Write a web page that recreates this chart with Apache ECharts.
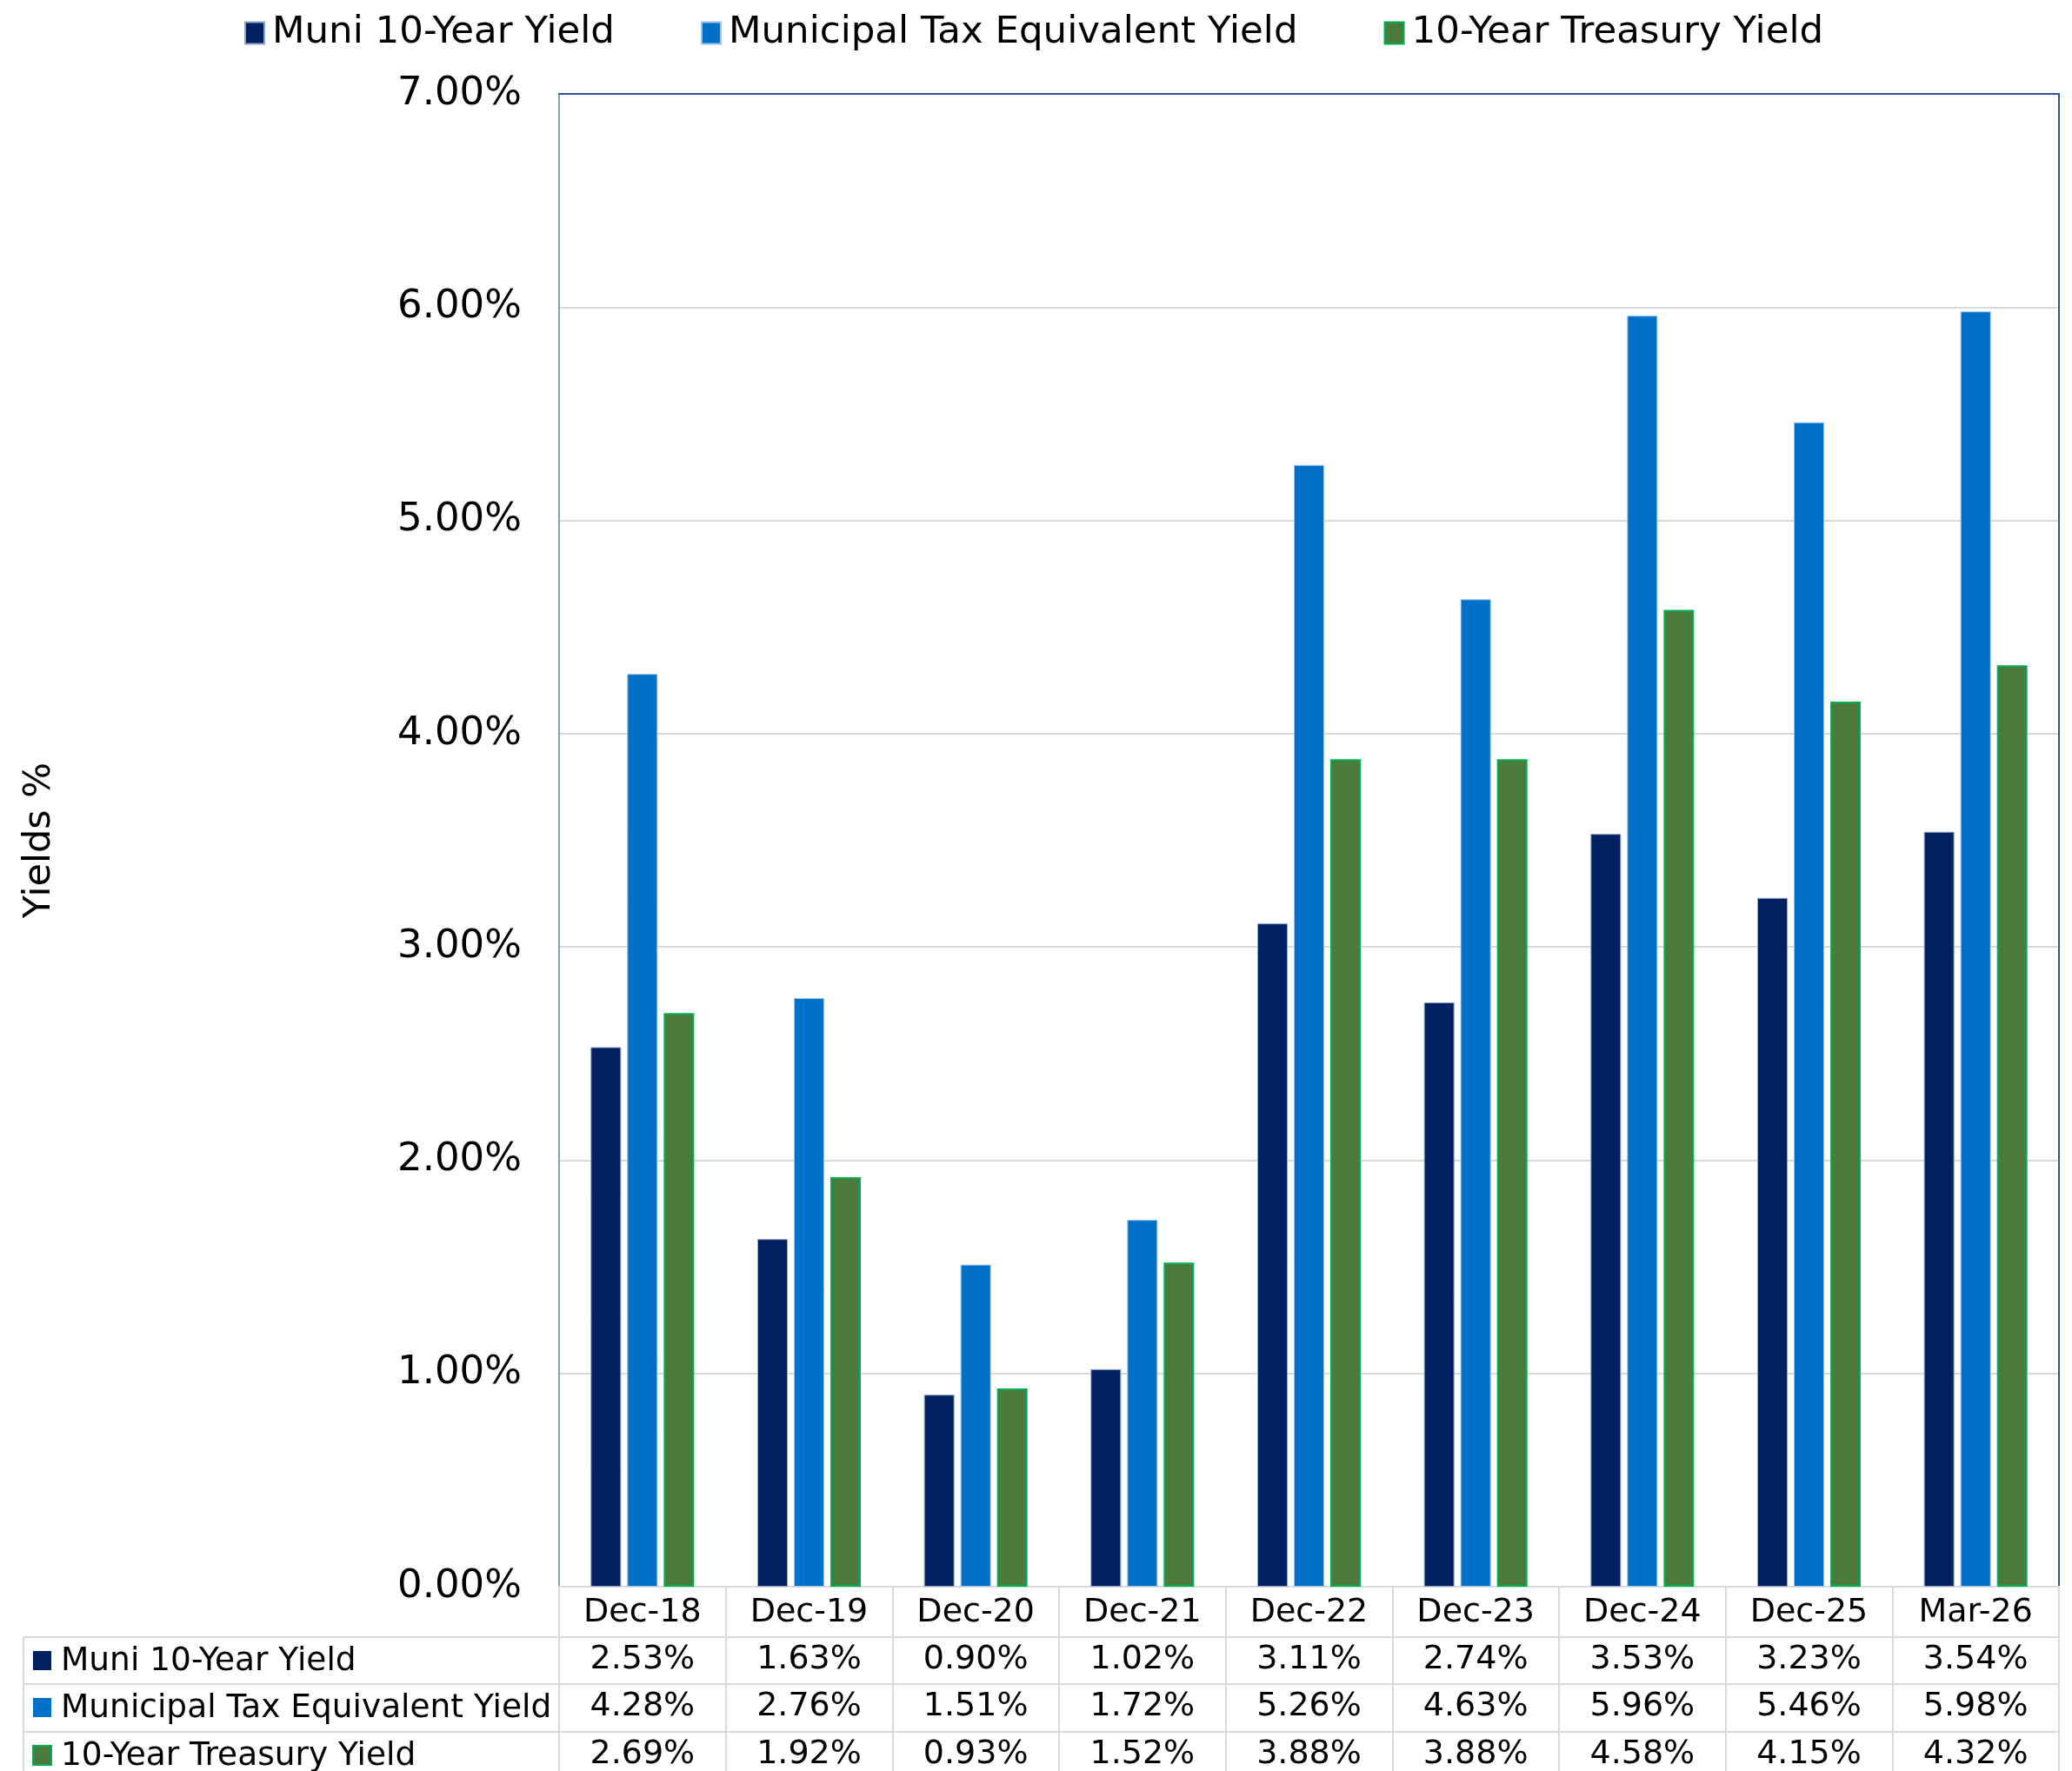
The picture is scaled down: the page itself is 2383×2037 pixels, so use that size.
<!DOCTYPE html>
<html>
<head>
<meta charset="utf-8">
<title>Yields</title>
<script src="https://cdn.jsdelivr.net/npm/echarts@6/dist/echarts.min.js"></script>
<style>
  html, body { margin: 0; padding: 0; background: #fff; }
  #chart { width: 2383px; height: 2037px; }
</style>
</head>
<body>
<div id="chart"></div>
<script>
const categories = ["Dec-18", "Dec-19", "Dec-20", "Dec-21", "Dec-22", "Dec-23", "Dec-24", "Dec-25", "Mar-26"];
const muniYield = [2.53, 1.63, 0.90, 1.02, 3.11, 2.74, 3.53, 3.23, 3.54];
const taxEquivYield = [4.28, 2.76, 1.51, 1.72, 5.26, 4.63, 5.96, 5.46, 5.98];
const treasuryYield = [2.69, 1.92, 0.93, 1.52, 3.88, 3.88, 4.58, 4.15, 4.32];
const seriesNames = ["Muni 10-Year Yield", "Municipal Tax Equivalent Yield", "10-Year Treasury Yield"];

const colors = ["#002060", "#0070C8", "#4B7A3D"];
const borderColors = ["#8FA3C8", "#9DC3E6", "#00B050"];
const font = "'DejaVu Sans', Verdana, sans-serif";

// layout
const W = 2383, H = 2037;
const grid = { left: 643, right: 15, top: 108, bottom: 211 };
const plotBottom = H - grid.bottom;
const plotRight = W - grid.right;
const rowOffsets = [57, 111, 166];
const tableLeft = 27;
const lineColor = "#D9D9D9";

const rows = [muniYield, taxEquivYield, treasuryYield];

const pct = v => v.toFixed(2) + "%";

const tableAxes = rows.map((vals, i) => ({
  type: "category",
  data: categories,
  position: "bottom",
  offset: rowOffsets[i],
  axisLine: { show: false },
  axisTick: { show: false },
  axisLabel: {
    interval: 0,
    margin: 8,
    fontSize: 38,
    lineHeight: 38,
    fontFamily: font,
    color: "#000",
    formatter: (v, idx) => pct(vals[idx]),
  },
}));

const graphics = [];
rowOffsets.forEach((off, i) => {
  const y = plotBottom + off;
  graphics.push({
    type: "line",
    shape: { x1: tableLeft, y1: y, x2: plotRight, y2: y },
    style: { stroke: lineColor, lineWidth: 2 },
  });
  graphics.push({
    type: "rect",
    shape: { x: 38, y: y + 27 - 11, width: 21, height: 22 },
    style: { fill: colors[i], stroke: i === 2 ? borderColors[2] : null, lineWidth: 2 },
  });
  graphics.push({
    type: "text",
    x: 70,
    y: y + 28,
    style: {
      text: seriesNames[i],
      font: "37.5px " + font,
      fill: "#000",
      verticalAlign: "middle",
    },
  });
});
graphics.push({
  type: "line",
  shape: { x1: tableLeft, y1: plotBottom + rowOffsets[0], x2: tableLeft, y2: H },
  style: { stroke: lineColor, lineWidth: 2 },
});

const option = {
  animation: false,
  backgroundColor: "#fff",
  textStyle: { fontFamily: font },
  legend: {
    top: 11,
    left: 276,
    itemWidth: 22,
    itemHeight: 25,
    itemGap: 99,
    icon: "rect",
    textStyle: { fontSize: 43.5, fontFamily: font, color: "#000", padding: [0, 0, 0, 4] },
    data: seriesNames,
  },
  grid: grid,
  xAxis: [
    {
      type: "category",
      data: categories,
      position: "bottom",
      axisLine: { lineStyle: { color: lineColor, width: 2 } },
      axisTick: { show: true, interval: 0, length: 240, lineStyle: { color: lineColor, width: 2 } },
      axisLabel: {
        interval: 0,
        margin: 11,
        fontSize: 38,
        lineHeight: 38,
        fontFamily: font,
        color: "#000",
      },
    },
    ...tableAxes,
    {
      type: "category",
      data: categories,
      position: "top",
      axisLine: { lineStyle: { color: "#2F5597", width: 2 } },
      axisTick: { show: false },
      axisLabel: { show: false },
    },
  ],
  yAxis: [
    {
      type: "value",
      min: 0,
      max: 7,
      interval: 1,
      name: "Yields %",
      nameLocation: "middle",
      nameGap: 576,
      nameTextStyle: { fontSize: 43, fontFamily: font, color: "#000" },
      axisLine: { show: true, lineStyle: { color: "#8EA0C0", width: 2 } },
      axisTick: { show: false },
      splitLine: { lineStyle: { color: lineColor, width: 2 } },
      axisLabel: {
        margin: 43,
        fontSize: 45,
        fontFamily: font,
        color: "#000",
        formatter: v => pct(v),
      },
    },
    {
      type: "value",
      min: 0,
      max: 7,
      interval: 1,
      position: "right",
      axisLine: { show: true, lineStyle: { color: "#2F5597", width: 2 } },
      axisTick: { show: false },
      axisLabel: { show: false },
      splitLine: { show: false },
    },
  ],
  series: rows.map((vals, i) => ({
    name: seriesNames[i],
    type: "bar",
    xAxisIndex: 0,
    yAxisIndex: 0,
    data: vals,
    barWidth: 35,
    barGap: "20%",
    itemStyle: {
      color: colors[i],
      borderColor: borderColors[i],
      borderWidth: i === 2 ? 2 : 1,
    },
  })),
  graphic: graphics,
};

const chart = echarts.init(document.getElementById("chart"));
chart.setOption(option);
</script>
</body>
</html>
